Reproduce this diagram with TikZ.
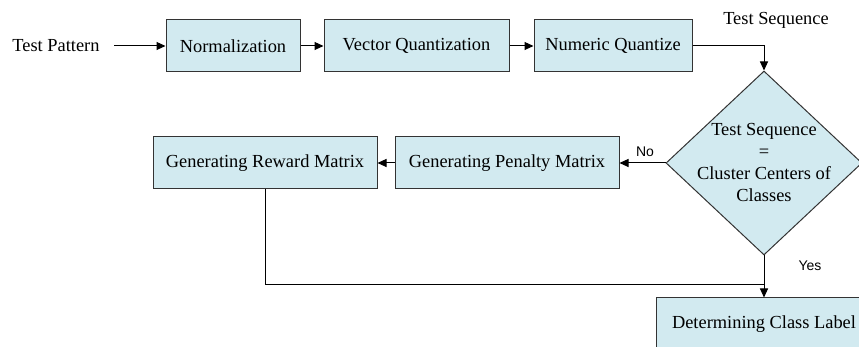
\documentclass[tikz,border=0pt]{standalone}
\usepackage{fontspec}
\setmainfont{Liberation Serif}
\newfontfamily\labelsans{Liberation Sans}
\usetikzlibrary{shapes.geometric, arrows.meta}

\definecolor{boxfill}{RGB}{210,234,240}

\begin{document}
\begin{tikzpicture}[x=0.5pt, y=-0.5pt, line width=0.5pt,
    font=\fontsize{9.2}{11}\selectfont,
    block/.style={draw=black!80, fill=boxfill, minimum height=26pt, inner sep=0pt},
    decision/.style={diamond, draw=black!80, fill=boxfill, minimum width=98pt, minimum height=92pt, inner sep=0pt},
    flow/.style={-{Triangle[length=4.5pt, width=4pt]}},
    answer/.style={font=\labelsans\fontsize{7}{8}\selectfont}]
    \clip (0, 0) rectangle (859, 347);
    \useasboundingbox (0, 0) rectangle (859, 347);

    \node[inner sep=7pt] (pattern) at (56, 46) {Test Pattern};
    \node[block, minimum width=67pt] (norm) at (233, 46) {Normalization};
    \node[block, minimum width=92.5pt] (vq) at (416.5, 46) {Vector Quantization};
    \node[block, minimum width=79pt] (nq) at (613, 46) {Numeric Quantize};
    \node (seq) at (776, 20) {Test Sequence};

    \node[decision] (match) at (764, 163) {};
    \node[align=center, inner sep=0pt] (matchtext) at (match) {Test Sequence\\=\\Cluster Centers of\\Classes};

    \node[block, minimum width=112pt] (penalty) at (507, 163) {Generating Penalty Matrix};
    \node[block, minimum width=112pt] (reward) at (265, 163) {Generating Reward Matrix};
    \node[block, minimum width=108pt] (label) at (764, 324) {Determining Class Label};

    \node[answer] (no) at (645, 152) {No};
    \node[answer] (yes) at (810, 266) {Yes};

    \coordinate (merge) at (764, 285);

    \draw[flow] (pattern.east) -- (norm.west);
    \draw[flow] (norm.east) -- (vq.west);
    \draw[flow] (vq.east) -- (nq.west);
    \draw[flow] (nq.east) -| (match.north);
    \draw[flow] (match.west) -- (penalty.east);
    \draw[flow] (penalty.west) -- (reward.east);
    \draw (reward.south) |- (merge);
    \draw[flow] (match.south) -- (label.north);
\end{tikzpicture}
\end{document}
